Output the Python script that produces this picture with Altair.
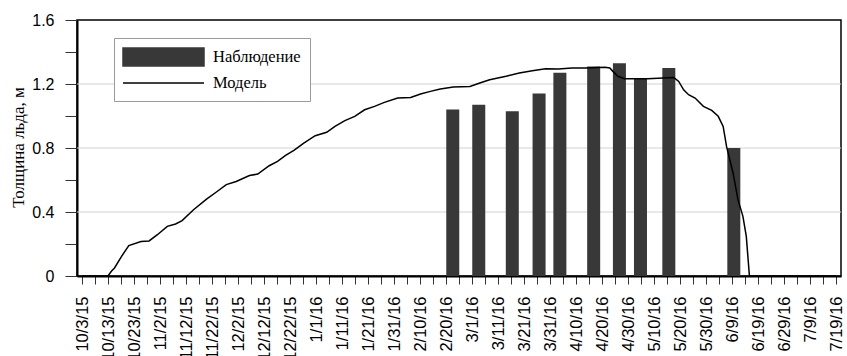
import altair as alt
import pandas as pd

# ---- data ----
start_date = "2015-10-03"
end_date = "2016-07-19"

# observation bars: days since 2015-10-03, ice thickness (m)
obs_day = [142.6, 152.6, 165.5, 175.8, 183.8, 196.8, 206.7, 214.8, 225.7, 250.7]
obs_ice = [1.04, 1.07, 1.03, 1.14, 1.27, 1.31, 1.33, 1.235, 1.30, 0.80]

# model line: days since 2015-10-03, ice thickness (m)
model_day = [0, 10.0, 11.3, 12.5, 15.1, 18.0, 22.7, 25.8, 29.0, 32.8,
             36.0, 38.5, 42.9, 47.9, 51.7, 55.5, 59.3, 64.4, 67.6, 72.0,
             75.2, 78.3, 81.5, 85.3, 89.7, 94.1, 97.3, 101.1, 104.9, 108.7,
             112.5, 116.3, 121.4, 126.4, 130.2, 134.0, 137.8, 142.8, 149.2, 153.0,
             156.8, 163.1, 168.2, 173.2, 178.3, 183.3, 188.4, 193.5, 201.1, 203.0,
             204.2, 206.1, 208.7, 217.5, 227.6, 229.5, 231.4, 233.3, 235.8, 239.0,
             242.2, 244.7, 246.6, 247.9, 250.4, 252.3, 254.2, 255.5, 256.7, 290]
model_ice = [0, 0, 0.03, 0.05, 0.12, 0.19, 0.216, 0.219, 0.258, 0.31,
             0.325, 0.346, 0.414, 0.48, 0.525, 0.571, 0.591, 0.628, 0.637, 0.689,
             0.716, 0.754, 0.785, 0.831, 0.877, 0.898, 0.935, 0.971, 0.998, 1.039,
             1.06, 1.085, 1.112, 1.116, 1.138, 1.154, 1.169, 1.181, 1.185, 1.206,
             1.227, 1.248, 1.269, 1.283, 1.296, 1.294, 1.30, 1.30, 1.304, 1.30,
             1.279, 1.248, 1.233, 1.233, 1.241, 1.216, 1.164, 1.133, 1.112, 1.06,
             1.035, 0.998, 0.935, 0.81, 0.644, 0.477, 0.373, 0.248, 0, 0]

series_names = ["Наблюдение", "Модель"]
y_ticks = [0, 0.2, 0.4, 0.6, 0.8, 1.0, 1.2, 1.4, 1.6]
grid_vals = [0.4, 0.8, 1.2]
y_title = "Толщина льда, м"

# ---- build tables ----
t0 = pd.Timestamp(start_date)
obs_df = pd.DataFrame({
    "date": [t0 + pd.to_timedelta(d, unit="D") for d in obs_day],
    "ice": obs_ice,
})
model_df = pd.DataFrame({
    "date": [t0 + pd.to_timedelta(d, unit="D") for d in model_day],
    "ice": model_ice,
})
grid_df = pd.DataFrame({"v": grid_vals})
legend_df = pd.DataFrame({"series": pd.Series([], dtype=str)})


def dt(ts):
    return alt.DateTime(year=ts.year, month=ts.month, date=ts.day)


tick_dates = pd.date_range(start_date, end_date, freq="5D")
x_ticks = [dt(t) for t in tick_dates]
n_last = len(x_ticks) - 1

x_scale = alt.Scale(domain=[dt(pd.Timestamp(start_date)), dt(pd.Timestamp(end_date))], nice=False)
y_scale = alt.Scale(domain=[0, 1.6], nice=False)


def make_x_axis():
    return alt.Axis(
        values=x_ticks,
        labelExpr=f"round(datum.index*{n_last}) % 2 == 0 ? timeFormat(datum.value, '%-m/%-d/%y') : ''",
        labelAngle=-90, labelOverlap=False, labelBound=False, labelFlush=False,
        grid=False, title=None, tickSize=8, labelPadding=12, labelFontSize=16.5,
    )


def make_y_axis():
    return alt.Axis(
        values=y_ticks,
        labelExpr="round(datum.value*10) % 4 == 0 ? format(datum.value, '.1~f') : ''",
        grid=False, tickSize=12, labelPadding=11, labelFontSize=16,
        title=y_title, titleFont="Liberation Serif", titleFontSize=17,
        titleFontWeight="normal", titleColor="black",
        titleX=-59, titleY=127, titleAngle=270, titleAlign="center", titleBaseline="middle",
    )


grid = alt.Chart(grid_df).mark_rule(color="#d2d2d2", strokeWidth=1).encode(
    y=alt.Y("v:Q", scale=y_scale, axis=make_y_axis(), title=y_title)
)

bars = alt.Chart(obs_df).mark_bar(size=13, color="#383838").encode(
    x=alt.X("date:T", scale=x_scale, axis=make_x_axis()),
    y=alt.Y("ice:Q", scale=y_scale, axis=make_y_axis(), title=y_title),
)

line = alt.Chart(model_df).mark_line(color="black", strokeWidth=1.5).encode(
    x=alt.X("date:T", scale=x_scale, axis=make_x_axis()),
    y=alt.Y("ice:Q", scale=y_scale, axis=make_y_axis(), title=y_title),
)

rect_path = "M-1.111,-1H7.889V1H-1.111Z"
line_path = "M-1.111,0H7.889"

legend = alt.Legend(
    title=None, orient="none", legendX=37, legendY=18, padding=9,
    rowPadding=4, symbolSize=324, symbolStrokeWidth=1.5, labelOffset=70,
    labelFont="Liberation Serif", labelFontSize=16.5, labelColor="black",
    fillColor="white", strokeColor="#9a9a9a", symbolOpacity=1,
)

leg = alt.Chart(legend_df).mark_point(filled=True).encode(
    fill=alt.Fill("series:N", scale=alt.Scale(domain=series_names, range=["#383838", "transparent"]), legend=legend),
    stroke=alt.Stroke("series:N", scale=alt.Scale(domain=series_names, range=["#383838", "black"]), legend=legend),
    shape=alt.Shape("series:N", scale=alt.Scale(domain=series_names, range=[rect_path, line_path]), legend=legend),
)

chart = alt.layer(grid, bars, line, leg).properties(
    width=764, height=256,
    padding={"left": 77, "top": 20, "right": 6, "bottom": 80},
    autosize="none",
).configure_view(
    stroke="black", strokeWidth=1.5
).configure_axis(
    domainColor="black", domainWidth=2, tickColor="#333333", tickWidth=1,
    labelColor="black", labelFont="Liberation Sans", labelFontSize=16,
)

chart.save("out.html", embed_options={"renderer": "svg", "actions": False})
